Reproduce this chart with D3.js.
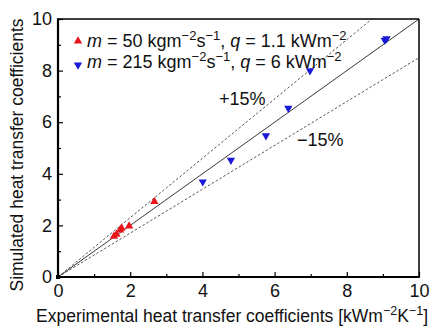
<!DOCTYPE html>
<html><head><meta charset="utf-8">
<script src="https://cdn.jsdelivr.net/npm/d3@7"></script>
<style>body{margin:0;background:#fff}text{font-family:"Liberation Sans",Arial,sans-serif}</style>
</head><body><svg id="c" width="441" height="329"></svg>
<script>
const xTicks=[0,2,4,6,8,10];
const yTicks=[0,2,4,6,8,10];
const minorTicks=[1,3,5,7,9];
const redX=[1.55,1.62,1.72,1.76,1.97,2.67];
const redY=[1.58,1.65,1.82,1.9,1.97,2.92];
const blueX=[4.01,4.79,5.76,6.38,6.98,9.05,9.1];
const blueY=[3.69,4.53,5.48,6.54,8.0,9.18,9.24];
const bands=[1.15,0.85];

const svg=d3.select("#c");
const L=58,R=419,T=19,B=277;
const x=d3.scaleLinear().domain([0,10]).range([L,R]);
const y=d3.scaleLinear().domain([0,10]).range([B,T]);

// 1:1 line
svg.append("line").attr("x1",x(0)).attr("y1",y(0)).attr("x2",x(10)).attr("y2",y(10))
  .attr("stroke","#222").attr("stroke-width",0.9);
// ±15% lines
bands.forEach(k=>{
  const xe=Math.min(10,10/k), ye=k*xe;
  svg.append("line").attr("x1",x(0)).attr("y1",y(0)).attr("x2",x(xe)).attr("y2",y(ye))
    .attr("stroke","#444").attr("stroke-width",0.9).attr("stroke-dasharray","2.5,2");
});

// markers
const tri=d3.symbol().type(d3.symbolTriangle).size(30);
svg.selectAll(".r").data(redX).enter().append("path")
  .attr("d",tri).attr("fill","#e8141a")
  .attr("transform",(d,i)=>`translate(${x(d)},${y(redY[i])})`);
svg.selectAll(".b").data(blueX).enter().append("path")
  .attr("d",tri).attr("fill","#1a1ad6")
  .attr("transform",(d,i)=>`translate(${x(d)},${y(blueY[i])}) rotate(180)`);

// axes
const fs="18px";
const ax=svg.append("g").attr("transform",`translate(0,${B})`)
  .call(d3.axisBottom(x).tickValues(xTicks).tickSizeInner(-5).tickSizeOuter(0).tickPadding(7));
const ay=svg.append("g").attr("transform",`translate(${L},0)`)
  .call(d3.axisLeft(y).tickValues(yTicks).tickSizeInner(-5).tickSizeOuter(0).tickPadding(6));
[ax,ay].forEach(g=>{g.select(".domain").remove();g.selectAll("text").style("font-size",fs).attr("fill","#111");g.selectAll("line").attr("stroke","#000").attr("stroke-width",1.2);});
svg.append("g").attr("transform",`translate(0,${B})`)
  .call(d3.axisBottom(x).tickValues(minorTicks).tickSizeInner(-3).tickSizeOuter(0).tickFormat(""))
  .call(g=>{g.select(".domain").remove();g.selectAll("line").attr("stroke","#000").attr("stroke-width",1.2);});
svg.append("g").attr("transform",`translate(${L},0)`)
  .call(d3.axisLeft(y).tickValues(minorTicks).tickSizeInner(-3).tickSizeOuter(0).tickFormat(""))
  .call(g=>{g.select(".domain").remove();g.selectAll("line").attr("stroke","#000").attr("stroke-width",1.2);});

// frame
svg.append("line").attr("x1",L).attr("y1",T).attr("x2",R).attr("y2",T).attr("stroke","#000").attr("stroke-width",1.5);
svg.append("line").attr("x1",R).attr("y1",T).attr("x2",R).attr("y2",B).attr("stroke","#000").attr("stroke-width",1.5);
svg.append("line").attr("x1",L).attr("y1",T-0.75).attr("x2",L).attr("y2",B+1).attr("stroke","#000").attr("stroke-width",2.2);
svg.append("line").attr("x1",L-1).attr("y1",B).attr("x2",R+0.75).attr("y2",B).attr("stroke","#000").attr("stroke-width",2.2);
svg.append("rect").attr("x",x(0)-2).attr("y",y(0)-2).attr("width",4).attr("height",4).attr("fill","#000");

// legend
function legendLine(yy,ty,color,up,parts){
  svg.append("path").attr("d",tri).attr("fill",color)
    .attr("transform",`translate(78,${ty}) ${up?"":"rotate(180)"}`);
  const t=svg.append("text").attr("x",87).attr("y",yy).style("font-size","18px").attr("fill","#111");
  parts.forEach(p=>{
    const s=t.append("tspan").text(p.t);
    if(p.i) s.style("font-style","italic");
    if(p.sup){s.attr("dy",-7).style("font-size","13px");}
    if(p.back){s.attr("dy",7);}
  });
}
legendLine(47,41,"#e8141a",true,[{t:"m",i:1},{t:" = 50 kgm"},{t:"−2",sup:1},{t:"s",back:1},{t:"−1",sup:1},{t:", ",back:1},{t:"q",i:1},{t:" = 1.1 kWm"},{t:"−2",sup:1}]);
legendLine(68,65,"#1a1ad6",false,[{t:"m",i:1},{t:" = 215 kgm"},{t:"−2",sup:1},{t:"s",back:1},{t:"−1",sup:1},{t:", ",back:1},{t:"q",i:1},{t:" = 6 kWm"},{t:"−2",sup:1}]);

svg.append("text").attr("x",219).attr("y",105).style("font-size","18px").attr("fill","#111").text("+15%");
svg.append("text").attr("x",297).attr("y",146).style("font-size","18px").attr("fill","#111").text("−15%");

// axis titles
const xt=svg.append("text").attr("x",36).attr("y",322).style("font-size","17.5px").attr("fill","#111");
xt.append("tspan").text("Experimental heat transfer coefficients [kWm");
xt.append("tspan").text("−2").attr("dy",-7).style("font-size","12.5px");
xt.append("tspan").text("K").attr("dy",7);
xt.append("tspan").text("−1").attr("dy",-7).style("font-size","12.5px");
xt.append("tspan").text("]").attr("dy",7);

svg.append("text").attr("transform","translate(23,155) rotate(-90)").attr("text-anchor","middle")
  .style("font-size","17.5px").attr("fill","#111").text("Simulated heat transfer coefficients");
</script></body></html>
